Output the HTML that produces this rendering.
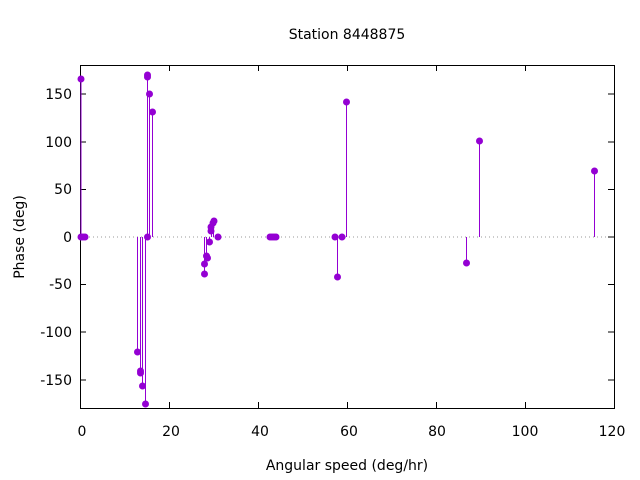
<!DOCTYPE html><html><head><style>body{margin:0;background:#fff}svg{display:block}text{font-family:"DejaVu Sans","Liberation Sans",sans-serif;font-size:14px;fill:#000}</style></head><body>
<svg width="640" height="480" xmlns="http://www.w3.org/2000/svg">
<text x="347" y="39" text-anchor="middle">Station 8448875</text>
<text x="347" y="470" text-anchor="middle">Angular speed (deg/hr)</text>
<text transform="translate(24,237) rotate(-90)" text-anchor="middle">Phase (deg)</text>
<line x1="81" y1="237" x2="614" y2="237" stroke="#999" stroke-width="1" stroke-dasharray="1,3"/>
<rect x="80.5" y="65.5" width="534" height="343" fill="none" stroke="#000" stroke-width="1"/>
<g stroke="#000" stroke-width="1">
<line x1="80.5" y1="94" x2="86" y2="94"/><line x1="614" y1="94" x2="608" y2="94"/>
<line x1="80.5" y1="142" x2="86" y2="142"/><line x1="614" y1="142" x2="608" y2="142"/>
<line x1="80.5" y1="189.5" x2="86" y2="189.5"/><line x1="614" y1="189.5" x2="608" y2="189.5"/>
<line x1="80.5" y1="237" x2="86" y2="237"/><line x1="614" y1="237" x2="608" y2="237"/>
<line x1="80.5" y1="284.5" x2="86" y2="284.5"/><line x1="614" y1="284.5" x2="608" y2="284.5"/>
<line x1="80.5" y1="332" x2="86" y2="332"/><line x1="614" y1="332" x2="608" y2="332"/>
<line x1="80.5" y1="380" x2="86" y2="380"/><line x1="614" y1="380" x2="608" y2="380"/>
<line x1="169.5" y1="408" x2="169.5" y2="402"/><line x1="169.5" y1="65.5" x2="169.5" y2="71"/>
<line x1="258.5" y1="408" x2="258.5" y2="402"/><line x1="258.5" y1="65.5" x2="258.5" y2="71"/>
<line x1="347.5" y1="408" x2="347.5" y2="402"/><line x1="347.5" y1="65.5" x2="347.5" y2="71"/>
<line x1="436.5" y1="408" x2="436.5" y2="402"/><line x1="436.5" y1="65.5" x2="436.5" y2="71"/>
<line x1="525.5" y1="408" x2="525.5" y2="402"/><line x1="525.5" y1="65.5" x2="525.5" y2="71"/>
</g>
<g text-anchor="end">
<text x="72" y="99">150</text><text x="72" y="147">100</text><text x="72" y="194">50</text><text x="72" y="242">0</text><text x="72" y="289">-50</text><text x="72" y="337">-100</text><text x="72" y="385">-150</text>
</g>
<g text-anchor="middle">
<text x="82" y="436">0</text><text x="171" y="436">20</text><text x="260" y="436">40</text><text x="349" y="436">60</text><text x="437" y="436">80</text><text x="525" y="436">100</text><text x="612" y="436">120</text>
</g>
<g stroke="#9400d3" stroke-width="1" fill="#9400d3">
<line x1="81" y1="237" x2="81" y2="79"/>
<line x1="137.5" y1="237" x2="137.5" y2="352"/>
<line x1="140.5" y1="237" x2="140.5" y2="373"/>
<line x1="142.5" y1="237" x2="142.5" y2="386"/>
<line x1="145.5" y1="237" x2="145.5" y2="404"/>
<line x1="147.5" y1="237" x2="147.5" y2="75"/>
<line x1="149.5" y1="237" x2="149.5" y2="94"/>
<line x1="152.5" y1="237" x2="152.5" y2="112"/>
<line x1="204.5" y1="237" x2="204.5" y2="274"/>
<line x1="206.5" y1="237" x2="206.5" y2="257"/>
<line x1="209.5" y1="237" x2="209.5" y2="242"/>
<line x1="211.5" y1="237" x2="211.5" y2="227"/>
<line x1="213.5" y1="237" x2="213.5" y2="223"/>
<line x1="337.5" y1="237" x2="337.5" y2="277"/>
<line x1="346.5" y1="237" x2="346.5" y2="102"/>
<line x1="466.5" y1="237" x2="466.5" y2="263"/>
<line x1="479.5" y1="237" x2="479.5" y2="141"/>
<line x1="594.5" y1="237" x2="594.5" y2="171"/>
</g>
<g fill="#9400d3">
<circle cx="81" cy="79" r="3.5"/><circle cx="81" cy="237" r="3.5"/><circle cx="83" cy="237" r="3.5"/><circle cx="85" cy="237" r="3.5"/>
<circle cx="137.5" cy="352" r="3.5"/><circle cx="140.5" cy="371" r="3.5"/><circle cx="140.5" cy="373" r="3.5"/><circle cx="142.5" cy="386" r="3.5"/><circle cx="145.5" cy="404" r="3.5"/>
<circle cx="147.5" cy="237" r="3.5"/><circle cx="147.5" cy="75" r="3.5"/><circle cx="147.5" cy="77" r="3.5"/><circle cx="149.5" cy="94" r="3.5"/><circle cx="152.5" cy="112" r="3.5"/>
<circle cx="204.5" cy="264" r="3.5"/><circle cx="204.5" cy="274" r="3.5"/><circle cx="206.5" cy="256" r="3.5"/><circle cx="207.5" cy="258" r="3.5"/><circle cx="209.5" cy="242" r="3.5"/>
<circle cx="211" cy="227" r="3.5"/><circle cx="211" cy="231" r="3.5"/><circle cx="213" cy="223" r="3.5"/><circle cx="214" cy="221" r="3.5"/><circle cx="218" cy="237" r="3.5"/>
<circle cx="270" cy="237" r="3.5"/><circle cx="272" cy="237" r="3.5"/><circle cx="274" cy="237" r="3.5"/><circle cx="276" cy="237" r="3.5"/>
<circle cx="335" cy="237" r="3.5"/><circle cx="337.5" cy="277" r="3.5"/><circle cx="342" cy="237" r="3.5"/><circle cx="346.5" cy="102" r="3.5"/>
<circle cx="466.5" cy="263" r="3.5"/><circle cx="479.5" cy="141" r="3.5"/><circle cx="594.5" cy="171" r="3.5"/>
</g>
</svg></body></html>
